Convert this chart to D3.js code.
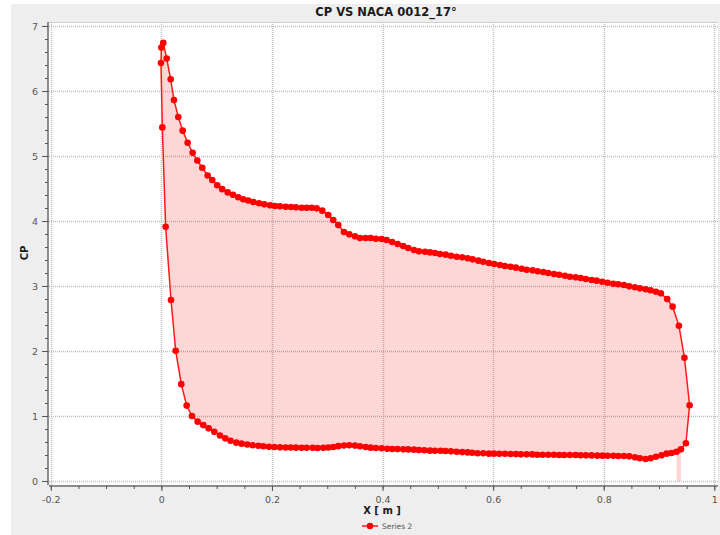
<!DOCTYPE html>
<html>
<head>
<meta charset="utf-8">
<script src="https://cdn.jsdelivr.net/npm/d3@7"></script>
<style>
  html, body { margin: 0; padding: 0; background: #ffffff; }
  svg { display: block; }
  text { font-family: "DejaVu Sans", sans-serif; }
</style>
</head>
<body>
<svg id="chart" width="720" height="535"></svg>
<script>
// ---- Data ----
const chartTitle = "CP VS NACA 0012_17°";
const xAxisTitle = "X [ m ]";
const yAxisTitle = "CP";
const seriesName = "Series 2";

// Lower curve, from near the trailing edge going toward the leading edge
const lowerX = [0.9317, 0.9227, 0.9137, 0.9046, 0.8944, 0.8848, 0.8757, 0.8654, 0.8564, 0.8461,
  0.8365, 0.8262, 0.8172, 0.8069, 0.7979, 0.7883, 0.7780, 0.7678, 0.7581, 0.7491,
  0.7388, 0.7286, 0.7195, 0.7100, 0.6997, 0.6894, 0.6798, 0.6708, 0.6605, 0.6502,
  0.6412, 0.6316, 0.6213, 0.6111, 0.6014, 0.5924, 0.5821, 0.5718, 0.5622, 0.5537,
  0.5440, 0.5339, 0.5237, 0.5140, 0.5050, 0.4948, 0.4857, 0.4755, 0.4658, 0.4568,
  0.4465, 0.4375, 0.4273, 0.4177, 0.4086, 0.3984, 0.3880, 0.3785, 0.3694, 0.3591,
  0.3501, 0.3398, 0.3302, 0.3200, 0.3109, 0.3019, 0.2929, 0.2826, 0.2736, 0.2627,
  0.2537, 0.2434, 0.2338, 0.2248, 0.2145, 0.2043, 0.1946, 0.1844, 0.1753, 0.1651,
  0.1554, 0.1450, 0.1355, 0.1250, 0.1156, 0.1060, 0.0957, 0.0855, 0.0758, 0.0656,
  0.0553];
const lowerCP = [0.451, 0.431, 0.421, 0.395, 0.374, 0.349, 0.338, 0.349, 0.364, 0.379,
  0.384, 0.385, 0.388, 0.389, 0.390, 0.390, 0.394, 0.395, 0.395, 0.399,
  0.399, 0.400, 0.400, 0.404, 0.404, 0.405, 0.405, 0.409, 0.410, 0.410,
  0.414, 0.415, 0.419, 0.420, 0.421, 0.421, 0.426, 0.428, 0.434, 0.440,
  0.445, 0.451, 0.456, 0.462, 0.465, 0.466, 0.467, 0.472, 0.477, 0.482,
  0.486, 0.487, 0.491, 0.492, 0.497, 0.503, 0.508, 0.513, 0.523, 0.535,
  0.545, 0.549, 0.547, 0.536, 0.522, 0.516, 0.510, 0.507, 0.511, 0.511,
  0.512, 0.513, 0.515, 0.516, 0.518, 0.522, 0.526, 0.535, 0.543, 0.549,
  0.562, 0.575, 0.590, 0.620, 0.656, 0.700, 0.756, 0.810, 0.860, 0.913,
  1.000];

// Leading-edge region (around the nose)
const noseX = [0.0457, 0.0360, 0.0258, 0.0174, 0.0077, 0.0017, -0.0007, 0.0000, 0.0034, 0.0096];
const noseCP = [1.160, 1.490, 2.005, 2.785, 3.910, 5.440, 6.430, 6.670, 6.740, 6.500];

// Upper curve, from the leading edge to the trailing edge and back down to the lower side
const upperX = [0.0168, 0.0228, 0.0306, 0.0385, 0.0475, 0.0566, 0.0650, 0.0740, 0.0837, 0.0920,
  0.1010, 0.1100, 0.1200, 0.1295, 0.1390, 0.1480, 0.1570, 0.1662, 0.1765, 0.1861,
  0.1964, 0.2054, 0.2145, 0.2248, 0.2344, 0.2434, 0.2537, 0.2627, 0.2718, 0.2808,
  0.2910, 0.3018, 0.3109, 0.3199, 0.3302, 0.3398, 0.3501, 0.3591, 0.3694, 0.3785,
  0.3880, 0.3984, 0.4074, 0.4175, 0.4273, 0.4374, 0.4465, 0.4568, 0.4658, 0.4767,
  0.4857, 0.4948, 0.5038, 0.5141, 0.5237, 0.5341, 0.5441, 0.5539, 0.5629, 0.5731,
  0.5821, 0.5924, 0.6020, 0.6123, 0.6213, 0.6316, 0.6412, 0.6515, 0.6606, 0.6714,
  0.6805, 0.6906, 0.6997, 0.7100, 0.7195, 0.7298, 0.7389, 0.7492, 0.7582, 0.7678,
  0.7781, 0.7872, 0.7973, 0.8070, 0.8172, 0.8262, 0.8365, 0.8461, 0.8564, 0.8655,
  0.8758, 0.8848, 0.8944, 0.9034, 0.9148, 0.9246, 0.9360, 0.9460, 0.9553, 0.9487,
  0.9396];
const upperCP = [6.180, 5.860, 5.600, 5.390, 5.205, 5.050, 4.930, 4.820, 4.700, 4.630,
  4.550, 4.490, 4.440, 4.405, 4.365, 4.335, 4.315, 4.292, 4.272, 4.256,
  4.241, 4.231, 4.226, 4.220, 4.215, 4.210, 4.205, 4.205, 4.205, 4.195,
  4.159, 4.092, 4.015, 3.938, 3.831, 3.795, 3.764, 3.738, 3.738, 3.738,
  3.728, 3.723, 3.708, 3.677, 3.646, 3.615, 3.585, 3.554, 3.533, 3.528,
  3.518, 3.508, 3.492, 3.482, 3.466, 3.451, 3.441, 3.426, 3.410, 3.390,
  3.374, 3.354, 3.338, 3.323, 3.308, 3.297, 3.282, 3.266, 3.251, 3.241,
  3.226, 3.215, 3.200, 3.185, 3.174, 3.158, 3.143, 3.133, 3.123, 3.108,
  3.092, 3.082, 3.066, 3.051, 3.035, 3.026, 3.015, 2.995, 2.980, 2.964,
  2.949, 2.934, 2.912, 2.887, 2.800, 2.682, 2.389, 1.897, 1.165, 0.580,
  0.487];

const xTickValues = [-0.2, 0, 0.2, 0.4, 0.6, 0.8, 1];
const xTickLabels = ["-0.2", "0", "0.2", "0.4", "0.6", "0.8", "1"];
const yTickValues = [0, 1, 2, 3, 4, 5, 6, 7];
const yTickLabels = ["0", "1", "2", "3", "4", "5", "6", "7"];

// ---- Build the series in drawing order ----
const allX = lowerX.concat(noseX, upperX);
const allCP = lowerCP.concat(noseCP, upperCP);
const series = allX.map((x, i) => ({ x: x, cp: allCP[i] }));

// ---- Layout ----
const svg = d3.select("#chart");
const W = 720, H = 535;

const x = d3.scaleLinear().domain([-0.2, 1]).range([50.8, 714.3]);
const y = d3.scaleLinear().domain([0, 7]).range([481, 26]);

// outer panel
svg.append("rect").attr("x", 11).attr("y", 4).attr("width", W - 11).attr("height", H - 4)
  .attr("fill", "#eeeeee");

// plot background
const plotL = 49, plotR = 718, plotT = 22, plotB = 485;
svg.append("rect").attr("x", plotL).attr("y", plotT)
  .attr("width", plotR - plotL).attr("height", plotB - plotT)
  .attr("fill", "#ffffff");
svg.append("line").attr("x1", plotL).attr("x2", plotR).attr("y1", plotT + 0.5).attr("y2", plotT + 0.5)
  .attr("stroke", "#cfcfcf").attr("stroke-width", 1);

// grid
const grid = svg.append("g");
grid.selectAll(".gx").data(xTickValues).enter().append("line")
  .attr("x1", d => Math.round(x(d)) + 0.5).attr("x2", d => Math.round(x(d)) + 0.5)
  .attr("y1", plotT).attr("y2", plotB)
  .attr("stroke", "#bdbdbd").attr("stroke-width", 1.4).attr("stroke-dasharray", "1,1");
grid.selectAll(".gy").data(yTickValues).enter().append("line")
  .attr("y1", d => Math.round(y(d)) + 0.5).attr("y2", d => Math.round(y(d)) + 0.5)
  .attr("x1", plotL).attr("x2", plotR)
  .attr("stroke", "#bdbdbd").attr("stroke-width", 1.4).attr("stroke-dasharray", "1,1");

// area fill (polygon through the points, closed to the baseline)
const area = d3.area()
  .x(d => x(d.x))
  .y0(y(0))
  .y1(d => y(d.cp));
svg.append("path").datum(series)
  .attr("d", area)
  .attr("fill", "#ff0000").attr("fill-opacity", 0.16)
  .attr("fill-rule", "nonzero");

// line
const line = d3.line().x(d => x(d.x)).y(d => y(d.cp));
svg.append("path").datum(series)
  .attr("d", line)
  .attr("fill", "none").attr("stroke", "#ff1a1a").attr("stroke-width", 1.5);

// markers
svg.append("g").selectAll("circle").data(series).enter().append("circle")
  .attr("cx", d => x(d.x)).attr("cy", d => y(d.cp)).attr("r", 3.3)
  .attr("fill", "#ff0000");

// axes
const axisColor = "#8c8c8c";
const xMinor = d3.range(-0.2, 1.0001, 0.05).map(v => +v.toFixed(2));
const yMinor = d3.range(0, 7.0001, 0.2).map(v => +v.toFixed(2));

const xAxisG = svg.append("g").attr("transform", "translate(0,486)");
xAxisG.call(d3.axisBottom(x).tickValues(xMinor).tickSize(3).tickFormat(""));
xAxisG.call(g => g.selectAll(".tick line").attr("stroke", "#555"));
const xMajor = svg.append("g").attr("transform", "translate(0,486)")
  .call(d3.axisBottom(x).tickValues(xTickValues).tickSize(5).tickPadding(5)
    .tickFormat((d, i) => xTickLabels[i]));
xMajor.select(".domain").remove();
xMajor.selectAll(".tick line").attr("stroke", "#555");
xMajor.selectAll(".tick text").attr("fill", "#555").attr("font-size", "9.5px")
  .attr("font-family", "DejaVu Sans, sans-serif");
xAxisG.select(".domain").attr("stroke", axisColor).attr("stroke-width", 2)
  .attr("d", `M${plotL},0H${plotR}`);

const yAxisG = svg.append("g").attr("transform", "translate(48,0)");
yAxisG.call(d3.axisLeft(y).tickValues(yMinor).tickSize(3).tickFormat(""));
yAxisG.selectAll(".tick line").attr("stroke", "#555");
const yMajor = svg.append("g").attr("transform", "translate(48,0)")
  .call(d3.axisLeft(y).tickValues(yTickValues).tickSize(6).tickPadding(4)
    .tickFormat((d, i) => yTickLabels[i]));
yMajor.select(".domain").remove();
yMajor.selectAll(".tick line").attr("stroke", "#555");
yMajor.selectAll(".tick text").attr("fill", "#555").attr("font-size", "9.5px")
  .attr("font-family", "DejaVu Sans, sans-serif");
yAxisG.select(".domain").attr("stroke", axisColor).attr("stroke-width", 2)
  .attr("d", `M0,${plotT}V${plotB}`);

// title
svg.append("text").attr("x", 386).attr("y", 16).attr("text-anchor", "middle")
  .attr("font-weight", "bold").attr("font-size", "11.5px").attr("fill", "#1a1a1a")
  .text(chartTitle);

// axis titles
svg.append("text").attr("x", 382).attr("y", 514).attr("text-anchor", "middle")
  .attr("font-weight", "bold").attr("font-size", "10px").attr("fill", "#1a1a1a")
  .text(xAxisTitle);
svg.append("text").attr("transform", "translate(28,253) rotate(-90)").attr("text-anchor", "middle")
  .attr("font-weight", "bold").attr("font-size", "10px").attr("fill", "#1a1a1a")
  .text(yAxisTitle);

// legend
const lg = svg.append("g");
lg.append("line").attr("x1", 362).attr("x2", 378).attr("y1", 526).attr("y2", 526)
  .attr("stroke", "#ff1a1a").attr("stroke-width", 1.5);
lg.append("circle").attr("cx", 370).attr("cy", 526).attr("r", 3.3).attr("fill", "#ff0000");
lg.append("text").attr("x", 382).attr("y", 528.5).attr("font-size", "7.5px").attr("fill", "#555")
  .text(seriesName);
</script>
</body>
</html>
